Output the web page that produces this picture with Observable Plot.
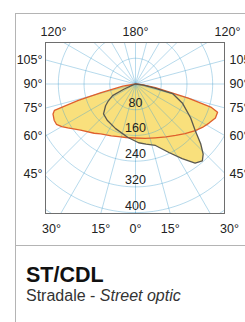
<!DOCTYPE html>
<html>
<head>
<meta charset="utf-8">
<script src="https://cdn.jsdelivr.net/npm/d3@7"></script>
<script src="https://cdn.jsdelivr.net/npm/@observablehq/plot@0.6"></script>
<style>
  html, body { margin: 0; padding: 0; background: #fff; }
  body { width: 245px; height: 322px; overflow: hidden; position: relative; font-family: "Liberation Sans", Arial, sans-serif; }
  #chart { position: absolute; left: 0; top: 0; }
  #card { position: absolute; left: 15px; top: 13px; width: 300px; height: 400px; border-left: 1px solid #b4b4b4; border-top: 1px solid #b4b4b4; }
  #sep { position: absolute; left: 15px; top: 245px; width: 300px; border-top: 1px solid #b4b4b4; }
  #title { position: absolute; left: 26px; top: 266px; font-size: 21.5px; line-height: 18px; font-weight: bold; color: #111; white-space: nowrap; }
  #subtitle { position: absolute; left: 26px; top: 289px; font-size: 16px; line-height: 14px; color: #333; white-space: nowrap; }
</style>
</head>
<body>
<div id="chart"></div>
<div id="card"></div>
<div id="sep"></div>
<div id="title">ST/CDL</div>
<div id="subtitle">Stradale - <i>Street optic</i></div>
<script>
// Photometric data (cd/klm), angle from nadir in degrees (negative = left)
const transverseAngles = [-90,-80,-76,-74,-72,-70,-66,-63,-60,-57,-50,-40,-35,-25,-18,-10,0,10,20,30,38,45,52,57,62,67,71,73,75,80,85,90];
const transverseValues = [0,40,110,185,265,273,277,276,265,251,223,200,189,178,172,169,168,172,178,190,203,218,236,248,259,270,270,245,170,63,20,0];

const longitudinalAngles = [-90,-70,-66,-63,-58,-54,-47,-38,-24,-8,3,10,18,26,32,37,41,44,47.5,52,58.5,67.5,75.5,77.5,82,90];
const longitudinalValues = [0,10,40,80,100,115,136,143,152,168,183,190,201,237,274,308,317,303,275,236,201,159,119,64,25,0];

// Grid and labels
const ringValues = [80, 160, 240, 320, 400, 480];
const ringLabels = ["80", "160", "240", "320", "400"];
const radialAngles = d3.range(0, 360, 15);
const sideAngles = [105, 90, 75, 60, 45];
const bottomAngles = [-30, -15, 0, 15, 30];
const topAngles = [-120, 180, 120];

// Layout
const W = 245, H = 245;
const mL = 45, mR = 21, mT = 42, mB = 32;
const cx = 135, cy = 83.5;          // pole position in px
const pxPerCd = 25.72 / 80;
const xDomain = [(mL - cx) / pxPerCd, (W - mR - cx) / pxPerCd];
const yDomain = [(cy - (H - mB)) / pxPerCd, (cy - mT) / pxPerCd];

const rad = d => d * Math.PI / 180;
const polar = (a, r) => ({x: r * Math.sin(rad(a)), y: -r * Math.cos(rad(a))});

const transverse = transverseAngles.map((a, i) => polar(a, transverseValues[i]));
const longitudinal = longitudinalAngles.map((a, i) => polar(a, longitudinalValues[i]));

const rings = ringValues.flatMap(r => d3.range(0, 361, 2).map(a => ({...polar(a, r), r})));
const spokes = radialAngles.map(a => { const p = polar(a, 900); return {x1: 0, y1: 0, x2: p.x, y2: p.y}; });

const ringText = ringLabels.map(t => ({t, ...polar(0, +t)}));

// exit point of each radial line on the left / right edge of the frame
const sideLeft = sideAngles.map(a => ({t: a + "°", x: xDomain[0], y: xDomain[0] * Math.cos(rad(a)) / Math.sin(rad(a))}));
const sideRight = sideLeft.map(d => ({t: d.t, x: xDomain[1], y: d.y}));

const isCorner = a => Math.abs(a) === 30 || Math.abs(a) === 120;
const bottomText = bottomAngles.map(a => ({
  t: Math.abs(a) + "°", a,
  x: isCorner(a) ? (a < 0 ? xDomain[0] : xDomain[1]) : -yDomain[0] * Math.tan(rad(a)),
  y: yDomain[0]
}));
const topText = topAngles.map(a => ({
  t: Math.abs(a) + "°", a,
  x: isCorner(a) ? (a < 0 ? xDomain[0] : xDomain[1]) : 0,
  y: yDomain[1]
}));

const fillColor = "#f9e07c";
const gridColor = "#4aa3cf";
const txt = "#222";

const plot = Plot.plot({
  width: W, height: H,
  marginLeft: mL, marginRight: mR, marginTop: mT, marginBottom: mB,
  x: {domain: xDomain, axis: null},
  y: {domain: yDomain, axis: null},
  style: {fontFamily: "'Liberation Sans', Arial, sans-serif", fontSize: "12.5px", color: "#333", background: "transparent", overflow: "visible"},
  marks: [
    Plot.line(transverse, {x: "x", y: "y", fill: fillColor, stroke: "none", curve: "linear-closed"}),
    Plot.line(longitudinal, {x: "x", y: "y", fill: fillColor, stroke: "none", curve: "linear-closed"}),
    Plot.line(rings, {x: "x", y: "y", z: "r", stroke: gridColor, strokeOpacity: 0.4, strokeWidth: 1, clip: true}),
    Plot.link(spokes, {x1: "x1", y1: "y1", x2: "x2", y2: "y2", stroke: gridColor, strokeOpacity: 0.4, strokeWidth: 1, clip: true}),
    Plot.line(transverse, {x: "x", y: "y", stroke: "#df5f2c", strokeWidth: 1.3, curve: "linear-closed"}),
    Plot.line(longitudinal, {x: "x", y: "y", stroke: "#5a5950", strokeWidth: 1.3, curve: "linear-closed"}),
    Plot.frame({stroke: "#6e6e6e", strokeWidth: 1}),
    Plot.text(ringText, {x: "x", y: "y", text: "t", dy: -7, fill: txt}),
    Plot.text(sideLeft, {x: "x", y: "y", text: "t", textAnchor: "end", dx: -3, fill: txt}),
    Plot.text(sideRight, {x: "x", y: "y", text: "t", textAnchor: "start", dx: 5, fill: txt}),
    Plot.text(bottomText.filter(d => !isCorner(d.a)), {x: "x", y: "y", text: "t", dy: 15, fill: txt}),
    Plot.text(bottomText.filter(d => isCorner(d.a) && d.a < 0), {x: "x", y: "y", text: "t", dy: 15, dx: 6, fill: txt}),
    Plot.text(bottomText.filter(d => isCorner(d.a) && d.a > 0), {x: "x", y: "y", text: "t", dy: 15, dx: 5, fill: txt}),
    Plot.text(topText.filter(d => !isCorner(d.a)), {x: "x", y: "y", text: "t", dy: -11, fill: txt}),
    Plot.text(topText.filter(d => isCorner(d.a) && d.a < 0), {x: "x", y: "y", text: "t", dy: -11, dx: 8, fill: txt}),
    Plot.text(topText.filter(d => isCorner(d.a) && d.a > 0), {x: "x", y: "y", text: "t", dy: -11, dx: 3, fill: txt})
  ]
});
document.getElementById("chart").appendChild(plot);
</script>
</body>
</html>
